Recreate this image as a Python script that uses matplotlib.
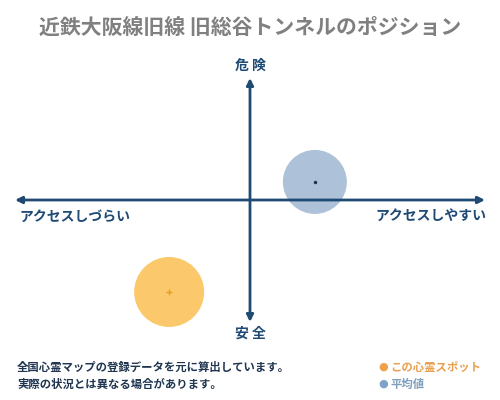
import matplotlib.pyplot as plt
from matplotlib.patches import Ellipse

plt.rcParams['font.family'] = ['Noto Sans CJK JP', 'DejaVu Sans']

# 位置 (-5..5 のスコア)
labels = ['この心霊スポット', '平均値']
pos_x = [-1.72, 1.38]
pos_y = [-3.77, 0.74]
face_colors = ['#fbc96b', '#adc1d8']
dot_colors = ['#e8a020', '#1f3550']
text_colors = ['#e8a050', '#7f9fbf']

title = '近鉄大阪線旧線 旧総谷トンネルのポジション'
note = ['全国心霊マップの登録データを元に算出しています。',
        '実際の状況とは異なる場合があります。']

navy = '#1e4a74'

fig = plt.figure(figsize=(5, 4), dpi=100)
ax = fig.add_axes([0, 0, 1, 1])
# 1 unit: x 47px, y 24.4px
ax.set_xlim(-250 / 47, 250 / 47)
ax.set_ylim(-200 / 24.4, 200 / 24.4)
ax.axis('off')

# 円 (半径はピクセル)
radii = [35, 32]
for x, y, fc, dc, r in zip(pos_x, pos_y, face_colors, dot_colors, radii):
    ax.add_patch(Ellipse((x, y), 2 * r / 47, 2 * r / 24.4, facecolor=fc,
                         edgecolor='none', zorder=1))
ax.plot(pos_x[0], pos_y[0], marker='+', color=dot_colors[0], ms=4, mew=1, zorder=3)
ax.plot(pos_x[1], pos_y[1], marker='o', color=dot_colors[1], ms=1.5, zorder=3)

# 軸の矢印
arr = dict(arrowstyle='<|-|>', color=navy, lw=2, mutation_scale=10,
           shrinkA=0, shrinkB=0)
ax.annotate('', xy=(5, 0), xytext=(-5, 0), arrowprops=arr, zorder=2)
ax.annotate('', xy=(0, 5), xytext=(0, -5), arrowprops=arr, zorder=2)

fig.text(0.5, 1 - 27 / 400, title, ha='center', va='center',
         fontsize=15, color='#808080', fontweight='bold')
fig.text(0.5, 1 - 66 / 400, '危 険', ha='center', va='center',
         fontsize=10, color=navy, fontweight='bold')
fig.text(0.5, 1 - 334 / 400, '安 全', ha='center', va='center',
         fontsize=10, color=navy, fontweight='bold')
fig.text(19 / 500, 1 - 217 / 400, 'アクセスしづらい', ha='left', va='center',
         fontsize=10, color=navy, fontweight='bold')
fig.text(486 / 500, 1 - 217 / 400, 'アクセスしやすい', ha='right', va='center',
         fontsize=10, color=navy, fontweight='bold')

fig.text(17 / 500, 1 - 367 / 400, note[0], ha='left', va='center',
         fontsize=8.2, color='#1f3550', fontweight='bold')
fig.text(17 / 500, 1 - 384 / 400, note[1], ha='left', va='center',
         fontsize=8.2, color='#1f3550', fontweight='bold')

for i, (lab, fc, tc) in enumerate(zip(labels, ['#f0a04a', '#7fa3c6'], text_colors)):
    yy = 1 - (367 + 17 * i) / 400
    fig.text(383 / 500, yy, '●', ha='center', va='center', fontsize=8,
             color=fc, family=['DejaVu Sans'])
    fig.text(390 / 500, yy, lab, ha='left', va='center', fontsize=8.2,
             color=tc, fontweight='bold')

fig.savefig('out.png', dpi=100)
